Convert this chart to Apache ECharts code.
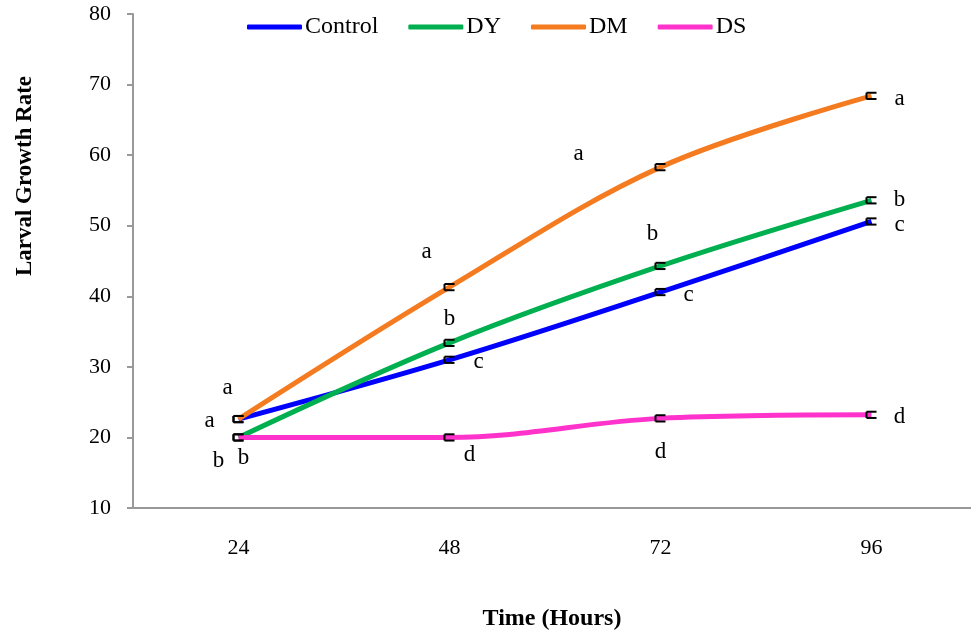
<!DOCTYPE html>
<html>
<head>
<meta charset="utf-8">
<script src="https://cdn.jsdelivr.net/npm/echarts@6/dist/echarts.min.js"></script>
<style>
  html, body { margin: 0; padding: 0; background: #fff; }
  #chart { width: 971px; height: 632px; }
</style>
</head>
<body>
<div id="chart"></div>
<script>
// data
const hours = ['24', '48', '72', '96']
const seriesNames = ['Control', 'DY', 'DM', 'DS']
const control = [22.6, 31.0, 40.6, 50.6]
const dy = [20.0, 33.4, 44.3, 53.6]
const dm = [22.6, 41.3, 58.3, 68.4]
const ds = [20.0, 20.0, 22.7, 23.2]
const errors = [0.3, 0.3, 0.3, 0.3]
// significance letters
const controlLetters = ['a', 'c', 'c', 'c']
const dyLetters = ['b', 'b', 'b', 'b']
const dmLetters = ['a', 'a', 'a', 'a']
const dsLetters = ['b', 'd', 'd', 'd']

const colors = ['#0000ff', '#00b050', '#f47b20', '#ff33cc']
const values = [control, dy, dm, ds]
const letters = [controlLetters, dyLetters, dmLetters, dsLetters]
// label offsets (px) relative to each point
const offsets = [
  [[-29, 2], [29, 2], [28, 3], [28, 3]],
  [[5, 21], [0, -24], [-8, -32], [28, 0]],
  [[-11, -31], [-23, -35], [-82, -13], [28, 3]],
  [[-20, 24], [20, 18], [0, 34], [28, 2]]
]

const font = 'Liberation Serif'
const chart = echarts.init(document.getElementById('chart'))

const series = []
seriesNames.forEach((name, i) => {
  series.push({
    name: name,
    type: 'line',
    smooth: 0.35,
    showSymbol: false,
    symbol: 'none',
    data: values[i],
    lineStyle: { color: colors[i], width: 5 },
    itemStyle: { color: colors[i] },
    z: 2
  })
})
seriesNames.forEach((name, i) => {
  series.push({
    type: 'custom',
    data: values[i].map((v, j) => [j, v, errors[j], j]),
    z: 5,
    renderItem: function (params, api) {
      const x = api.value(0)
      const v = api.value(1)
      const e = api.value(2)
      const j = api.value(3)
      const top = api.coord([x, v + e])
      const bot = api.coord([x, v - e])
      const mid = api.coord([x, v])
      const off = offsets[i][j]
      return {
        type: 'group',
        children: [
          { type: 'line', shape: { x1: top[0] - 5, y1: top[1] - 1, x2: top[0] + 5, y2: top[1] - 1 }, style: { stroke: '#000', lineWidth: 2 } },
          { type: 'line', shape: { x1: bot[0] - 5, y1: bot[1] + 1, x2: bot[0] + 5, y2: bot[1] + 1 }, style: { stroke: '#000', lineWidth: 2 } },
          { type: 'line', shape: { x1: mid[0] - 5, y1: top[1] - 1, x2: mid[0] - 5, y2: bot[1] + 1 }, style: { stroke: '#000', lineWidth: 2 } },
          {
            type: 'text',
            x: mid[0] + off[0],
            y: mid[1] + off[1],
            style: { text: letters[i][j], fill: '#000', font: '23px "' + font + '"', align: 'center', verticalAlign: 'middle' }
          }
        ]
      }
    }
  })
})

chart.setOption({
  animation: false,
  textStyle: { fontFamily: font },
  grid: { left: 133, right: -6, top: 14, bottom: 124, outerBoundsMode: 'none', containLabel: false },
  legend: {
    data: seriesNames,
    top: 15,
    left: 247,
    padding: 0,
    itemWidth: 55,
    itemHeight: 5,
    itemGap: 30,
    icon: 'roundRect',
    textStyle: { fontFamily: font, fontSize: 24, color: '#000', padding: [0, 0, 0, -2] }
  },
  xAxis: {
    type: 'category',
    data: hours,
    boundaryGap: true,
    axisLine: { lineStyle: { color: '#999', width: 2 } },
    axisTick: { lineStyle: { color: '#999', width: 2 }, length: 6 },
    axisLabel: { fontFamily: font, fontSize: 22, color: '#000', margin: 29 }
  },
  yAxis: {
    type: 'value',
    min: 10,
    max: 80,
    interval: 10,
    splitLine: { show: false },
    axisLine: { show: true, lineStyle: { color: '#999', width: 2 } },
    axisTick: { show: true, lineStyle: { color: '#999', width: 2 }, length: 6 },
    axisLabel: { fontFamily: font, fontSize: 22, color: '#000', margin: 22 }
  },
  graphic: [{
    type: 'text',
    x: 25,
    y: 176,
    rotation: Math.PI / 2,
    style: { text: 'Larval Growth Rate', fill: '#000', font: 'bold 23px "' + font + '"', align: 'center', verticalAlign: 'middle' }
  }, {
    type: 'text',
    x: 552,
    y: 619,
    style: { text: 'Time (Hours)', fill: '#000', font: 'bold 24px "' + font + '"', align: 'center', verticalAlign: 'middle' }
  }],
  series: series
})
</script>
</body>
</html>
